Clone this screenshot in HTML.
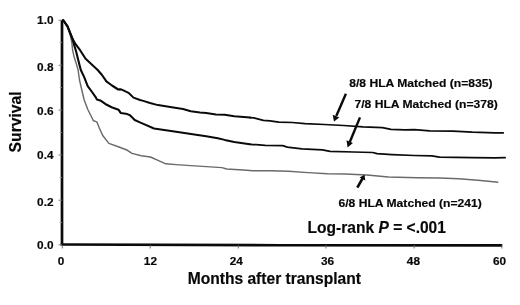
<!DOCTYPE html>
<html><head><meta charset="utf-8">
<style>
html,body{margin:0;padding:0;background:#fff;}
body{width:520px;height:305px;overflow:hidden;}
svg{display:block;filter:blur(0.3px);}
text{font-family:"Liberation Sans",Arial,sans-serif;font-weight:bold;fill:#080808;stroke:#080808;stroke-width:0.18px;}
</style></head><body>
<svg width="520" height="305" viewBox="0 0 520 305">
<rect width="520" height="305" fill="#fff"/>
<!-- axes -->
<path d="M62 20 V244.600" fill="none" stroke="#0a0a0a" stroke-width="2.700"/>
<path d="M60.650 244.500 L280 245.250 L502.300 245.450" fill="none" stroke="#0a0a0a" stroke-width="2.700"/>
<g stroke="#777" stroke-width="0.900">
<path d="M58.500 20.300H62M58.500 65.200H62M58.500 110H62M58.500 154.900H62M58.500 200.200H62M58.500 244.800H62"/>
<path d="M59.500 42.500H62M59.500 87.500H62M59.500 132.500H62M59.500 177.500H62M59.500 222.500H62" stroke="#999" stroke-width="0.700"/>
<path d="M62.300 245V248.500M150.200 245V248.500M238.300 245V248.500M326 245V248.500M414.200 245V248.500M501.800 245V248.500" stroke="#666"/>
</g>
<!-- curves -->
<polyline fill="none" stroke="#6a6a6a" stroke-width="1.45" stroke-linejoin="round" points="63.1,20.0 67.5,26.3 70.5,36.0 71.8,42.3 72.6,50.2 74.2,57.3 76.4,64.0 78.1,70.0 79.5,80.0 81.8,90.0 83.5,97.0 84.2,100.0 87.7,109.2 92.3,118.5 93.5,120.8 96.9,121.9 99.2,127.7 102.7,135.5 108.9,143.4 119.7,147.3 127.4,150.3 132.0,153.4 141.2,155.7 150.5,157.0 159.7,161.1 165.8,163.8 179.3,164.9 198.7,166.1 221.9,167.6 226.7,169.0 243.2,170.0 252.8,170.8 269.3,170.8 288.7,171.3 308.0,172.6 327.4,173.7 345.0,174.0 367.0,175.0 388.4,177.0 417.4,177.7 440.0,178.0 458.7,178.8 478.0,180.3 498.3,182.2"/>
<polyline fill="none" stroke="#0a0a0a" stroke-width="2.1" stroke-linejoin="round" stroke-linecap="round" points="63.1,20.0 67.5,26.3 72.5,38.8 73.8,43.9 76.2,51.7 78.1,59.6 80.8,70.0 84.1,76.9 87.7,86.1 92.4,92.5 95.8,97.4 96.8,99.4 100.3,100.4 106.7,104.8 111.6,107.2 118.5,109.7 120.0,111.8"/>
<polyline fill="none" stroke="#0a0a0a" stroke-width="2.0" stroke-linejoin="round" stroke-linecap="round" points="120.0,111.8 120.9,113.1 127.3,114.1 130.0,115.2 134.7,120.0 140.5,122.7 154.0,128.5 167.6,130.5 181.1,132.4 192.7,134.3 206.2,136.3 217.8,138.2 224.7,139.9 234.3,142.0 249.8,144.3 250.0,144.3"/>
<polyline fill="none" stroke="#0a0a0a" stroke-width="1.75" stroke-linejoin="round" stroke-linecap="round" points="250.0,144.3 265.3,145.3 282.7,145.6 287.3,147.2 302.0,148.8 322.4,149.9 330.1,151.4 353.4,152.0 372.7,152.5 377.0,153.7 392.0,154.6 414.3,155.5 431.8,155.9 439.5,157.2 472.4,157.6 495.0,157.8 505.1,157.7"/>
<polyline fill="none" stroke="#0a0a0a" stroke-width="2.1" stroke-linejoin="round" stroke-linecap="round" points="63.1,20.0 67.5,26.3 72.5,38.8 75.4,43.9 80.1,50.2 85.6,58.8 97.7,70.0 102.0,75.0 106.4,81.4 112.0,85.5 118.2,89.5 120.0,89.4"/>
<polyline fill="none" stroke="#0a0a0a" stroke-width="2.0" stroke-linejoin="round" stroke-linecap="round" points="120.0,89.4 121.2,89.4 125.0,91.2 129.0,93.2 133.5,97.6 140.0,100.0 143.3,100.9 150.0,103.0 157.9,105.1 173.4,107.4 183.0,109.0 190.8,111.3 200.0,112.4 206.2,113.0 215.9,114.6 224.7,114.7 234.3,116.2 250.0,117.6"/>
<polyline fill="none" stroke="#0a0a0a" stroke-width="1.75" stroke-linejoin="round" stroke-linecap="round" points="250.0,117.6 253.7,117.9 263.4,120.3 270.0,120.8 278.8,122.1 292.4,122.5 305.0,123.6 324.3,124.5 343.7,125.5 363.0,126.8 382.4,127.6 391.0,129.4 405.0,129.8 414.3,129.7 429.8,130.9 453.0,131.1 472.4,132.2 495.0,132.8 503.2,132.9"/>
<!-- arrows -->
<g stroke="#0a0a0a" stroke-width="2.400" fill="#0a0a0a">
<path d="M345.900 93.700 L336.300 116" fill="none"/>
<path d="M334 121.500 L332.700 114.700 L339.300 117.500Z" stroke="none"/>
<path d="M360 117.400 L349.800 142" fill="none"/>
<path d="M347.600 147.500 L346.500 140.300 L352.900 143Z" stroke="none"/>
<path d="M357.300 187.700 L362.800 178" fill="none" stroke-width="2.600"/>
<path d="M364.500 174.800 L359.600 177.600 L365.300 180.600Z" stroke="none"/>
</g>
<!-- tick labels -->
<g font-size="11.800" text-anchor="end">
<text x="53.500" y="24.300">1.0</text>
<text x="53.500" y="71.100">0.8</text>
<text x="53.500" y="115.100">0.6</text>
<text x="53.500" y="158.700">0.4</text>
<text x="53.500" y="205.500">0.2</text>
<text x="53.500" y="249.300">0.0</text>
</g>
<g font-size="11.800" text-anchor="middle">
<text x="61" y="264.800">0</text>
<text x="150.400" y="264.800">12</text>
<text x="236.300" y="264.800">24</text>
<text x="327.500" y="264.800">36</text>
<text x="413.400" y="264.800">48</text>
<text x="499.600" y="264.800">60</text>
</g>
<text stroke="#0d0d0d" stroke-width="0.3" font-size="16.200" x="187.700" y="283.700" textLength="173.200" lengthAdjust="spacingAndGlyphs">Months after transplant</text>
<text stroke="#0d0d0d" stroke-width="0.3" font-size="17" transform="translate(21.200,152.400) rotate(-90)" textLength="61" lengthAdjust="spacingAndGlyphs">Survival</text>
<text font-size="11.500" x="349.200" y="87.400" textLength="143.300" lengthAdjust="spacingAndGlyphs">8/8 HLA Matched (n=835)</text>
<text font-size="11.500" x="354.500" y="108.100" textLength="143.200" lengthAdjust="spacingAndGlyphs">7/8 HLA Matched (n=378)</text>
<text font-size="11.500" x="338.500" y="207.100" textLength="143.300" lengthAdjust="spacingAndGlyphs">6/8 HLA Matched (n=241)</text>
<text stroke="#0d0d0d" stroke-width="0.3" font-size="16.300" x="307.600" y="232.900" textLength="138.300" lengthAdjust="spacingAndGlyphs">Log-rank <tspan font-style="italic">P</tspan> = &lt;.001</text>
</svg>
</body></html>
